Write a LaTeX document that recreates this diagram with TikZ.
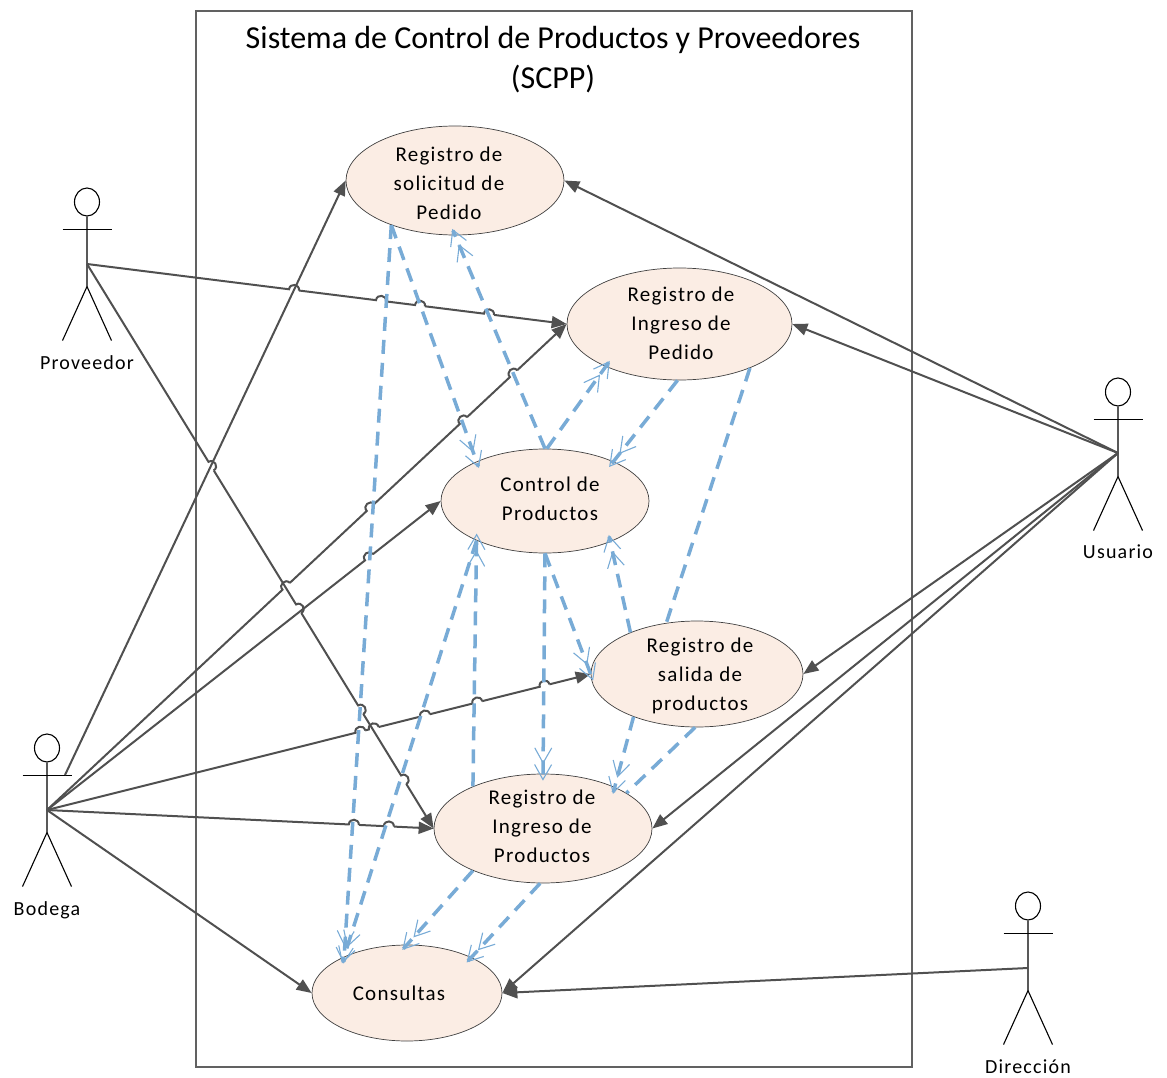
\documentclass[tikz,border=0pt]{standalone}
\usepackage{fontspec}
\setmainfont{Carlito}
\newfontfamily\labfont[LetterSpace=6]{Carlito}
\usetikzlibrary{shapes.geometric,arrows.meta,calc}
\definecolor{dk}{HTML}{505050}
\definecolor{bl}{HTML}{78ABD6}
\definecolor{uc}{HTML}{FBEDE4}
\tikzset{
  usecase/.style={ellipse,draw=black!75,line width=0.7pt,fill=uc,inner sep=0pt},
  txt/.style={align=center,text=black,inner sep=0pt,font=\labfont\fontsize{21}{29}\selectfont},
  actorlabel/.style={text=black,inner sep=0pt,font=\labfont\fontsize{20}{24}\selectfont},
  actorhead/.style={ellipse,draw=black,line width=1.1pt,fill=white,minimum width=25pt,minimum height=28pt,inner sep=0pt},
  limb/.style={draw=black,line width=1.1pt},
  assoc/.style={draw=dk,line width=2pt},
  assocend/.style={assoc,-{Triangle[length=15pt,width=12pt]}},
  dep/.style={draw=bl,line width=3.5pt,dash pattern=on 14pt off 9pt,
    -{Straight Barb[length=15pt,width=17pt,line width=1.1pt]Straight Barb[length=15pt,width=17pt,line width=1.1pt,sep=-7pt]}},
  depplain/.style={draw=bl,line width=3.5pt,dash pattern=on 14pt off 9pt}
}
% connector from #1 to #2 that jumps in small arcs at the points #3 (x/y)
\newcommand{\hopline}[3]{%
  \coordinate (prevpt) at (#1);
  \foreach \hx/\hy in {#3}{
    \coordinate (hq) at ($(#1)!(\hx,\hy)!(#2)$);
    \coordinate (ha) at ($(hq)!5pt!(#1)$);
    \coordinate (hb) at ($(hq)!5pt!(#2)$);
    \draw[assoc] (prevpt) -- (ha) .. controls ($(ha)!6.6pt!90:(hb)$) and ($(hb)!6.6pt!-90:(ha)$) .. (hb);
    \coordinate (prevpt) at (hb);
  }
  \draw[assocend] (prevpt) -- (#2);
}
\newcommand{\actor}[3]{% name, x, head y
  \node[actorhead] (#1head) at (#2,#3) {};
  \draw[limb] (#1head.south) -- ++(0,70) coordinate (#1hip) -- ++(-24.5,54);
  \draw[limb] (#1hip) -- ++(24.5,54);
  \draw[limb] ($(#1head.south)+(-24.5,13)$) -- ++(49,0);
}
\begin{document}
\begin{tikzpicture}[x=1pt,y=-1pt]
\useasboundingbox (0,0) rectangle (1167,1078);
\node[draw=dk!90,line width=1.6pt,minimum width=716pt,minimum height=1056pt,inner sep=0pt] (frame) at (554,539) {};
\node[align=center,inner sep=0pt,font=\fontsize{32}{40}\selectfont] (title) at (553,60) {Sistema de Control de Productos y Proveedores\\(SCPP)};

% actors
\actor{prov}{87}{202}
\actor{usu}{1118}{392}
\actor{bod}{47}{748}
\actor{dir}{1028}{906}
\coordinate (provc) at (87,264);
\coordinate (usuc) at (1118,453);
\coordinate (bodc) at (47,810);
\coordinate (bodh) at (65,775);
\coordinate (dirc) at (1028,968);
\node[actorlabel] (provl) at (87,363) {Proveedor};
\node[actorlabel] (usul) at (1118,552) {Usuario};
\node[actorlabel] (bodl) at (47,910) {Bodega};
\node[actorlabel] (dirl) at (1028,1067) {Dirección};

% use cases
\node[usecase,minimum width=218pt,minimum height=109pt] (R1) at (455,180.5) {};
\node[usecase,minimum width=225pt,minimum height=112pt] (R2) at (679.5,324) {};
\node[usecase,minimum width=208pt,minimum height=104pt] (C) at (545,501) {};
\node[usecase,minimum width=212pt,minimum height=106pt] (S) at (697,674) {};
\node[usecase,minimum width=218pt,minimum height=109pt] (IP) at (543,828.5) {};
\node[usecase,minimum width=190pt,minimum height=96pt] (Q) at (407,993) {};
\node[txt] (tR1) at (449,183) {Registro de\\solicitud de\\Pedido};
\node[txt] (tR2) at (681,323.5) {Registro de\\Ingreso de\\Pedido};
\node[txt] (tC) at (550,499) {Control de\\Productos};
\node[txt] (tS) at (700,676) {Registro de\\salida de\\productos};
\node[txt] (tIP) at (542,826) {Registro de\\Ingreso de\\Productos};
\node[txt] (tQ) at (399,993) {Consultas};

% associations
\draw[assocend] (bodh) -- (R1.180);
\hopline{provc}{R2.180}{294/290,381/301,420/306,489/314}
\hopline{provc}{IP.180}{213/465,300/608,362/709,405/779}
\hopline{bodc}{R2.180}{285/585,370/507,463/420,513/373}
\hopline{bodc}{C.180}{368/556}
\hopline{bodc}{S.180}{360/730,373/725,424/711,477/701,544/683}
\hopline{bodc}{IP.180}{354/822,389/824}
\draw[assocend] (bodc) -- (Q.180);
\draw[assocend] (usuc) -- (R1.0);
\draw[assocend] (usuc) -- (R2.0);
\draw[assocend] (usuc) -- (S.0);
\draw[assocend] (usuc) -- (IP.0);
\draw[assocend] (usuc) -- (Q.0);
\draw[assocend] (dirc) -- (Q.0);

% dependencies
\draw[dep] (R1.215) -- (C.150);
\draw[dep] (R1.215) -- (Q.150);
\draw[dep] (C.90) -- (R1.270);
\draw[dep] (C.88) -- (R2.210);
\draw[dep] (R2.268) -- (C.30);
\draw[depplain] (R2.328) -- (S.121);
\draw[dep] (C.270) -- (S.180);
\draw[dep] (C.270) -- (IP.90);
\draw[dep] (S.148) -- (C.328);
\draw[dep] (S.214) -- (IP.30);
\draw[depplain] (S.268) -- (IP.23);
\draw[dep] (IP.149) -- (C.210);
\draw[dep] (C.210) -- (Q.150);
\draw[dep] (IP.211) -- (Q.90);
\draw[dep] (IP.267) -- (Q.29);
\end{tikzpicture}
\end{document}
